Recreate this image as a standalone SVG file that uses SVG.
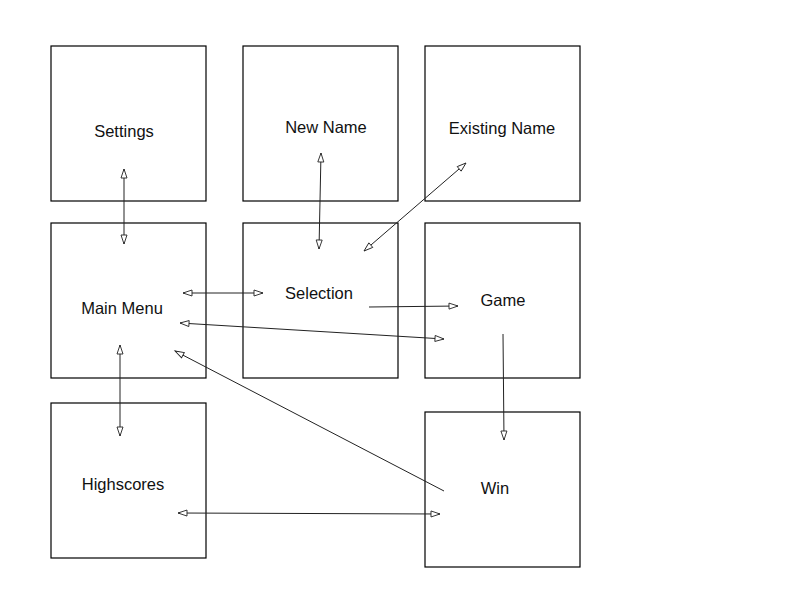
<svg xmlns="http://www.w3.org/2000/svg" width="800" height="600" viewBox="0 0 800 600">
<style>
.box{fill:#fff;stroke:#000;stroke-width:1.2}
.lbl{font-family:"Liberation Sans",Arial,sans-serif;font-size:16.5px;fill:#111;text-anchor:middle}
.c{stroke:#222;stroke-width:1;fill:none}
.both{marker-start:url(#ah);marker-end:url(#ah)}
.end{marker-end:url(#ah)}
</style>
<defs>
<marker id="ah" markerUnits="userSpaceOnUse" markerWidth="12" markerHeight="8" refX="9" refY="3" orient="auto-start-reverse" viewBox="-1 -1 12 8">
<path d="M0,0 L9,3 L0,6 Z" fill="#fff" stroke="#222" stroke-width="0.9"/>
</marker>
</defs>
<rect width="800" height="600" fill="#fff"/>
<g id="settings"><rect class="box" x="51" y="46" width="155" height="155"/><text class="lbl" x="124" y="137">Settings</text></g>
<g id="newname"><rect class="box" x="243" y="46" width="155" height="155"/><text class="lbl" x="326" y="133">New Name</text></g>
<g id="existingname"><rect class="box" x="425" y="46" width="155" height="155"/><text class="lbl" x="502" y="134">Existing Name</text></g>
<g id="mainmenu"><rect class="box" x="51" y="223" width="155" height="155"/><text class="lbl" x="122" y="314">Main Menu</text></g>
<g id="selection"><rect class="box" x="243" y="223" width="155" height="155"/><text class="lbl" x="319" y="299">Selection</text></g>
<g id="game"><rect class="box" x="425" y="223" width="155" height="155"/><text class="lbl" x="503" y="306">Game</text></g>
<g id="highscores"><rect class="box" x="51" y="403" width="155" height="155"/><text class="lbl" x="123" y="490">Highscores</text></g>
<g id="win"><rect class="box" x="425" y="412" width="155" height="155"/><text class="lbl" x="495" y="494">Win</text></g>
<g id="connectors">
<line class="c both" x1="124" y1="169" x2="124" y2="244"/>
<line class="c both" x1="321" y1="153" x2="319" y2="249"/>
<line class="c both" x1="466" y1="163" x2="364" y2="251"/>
<line class="c both" x1="183" y1="293" x2="263" y2="293"/>
<line class="c end" x1="369" y1="307" x2="458" y2="306"/>
<line class="c both" x1="180" y1="323" x2="444" y2="339"/>
<line class="c end" x1="503" y1="334" x2="504" y2="440"/>
<line class="c end" x1="444" y1="491" x2="175" y2="351"/>
<line class="c both" x1="178" y1="513" x2="440" y2="514"/>
<line class="c both" x1="120" y1="345" x2="120" y2="436"/>
</g>
</svg>
